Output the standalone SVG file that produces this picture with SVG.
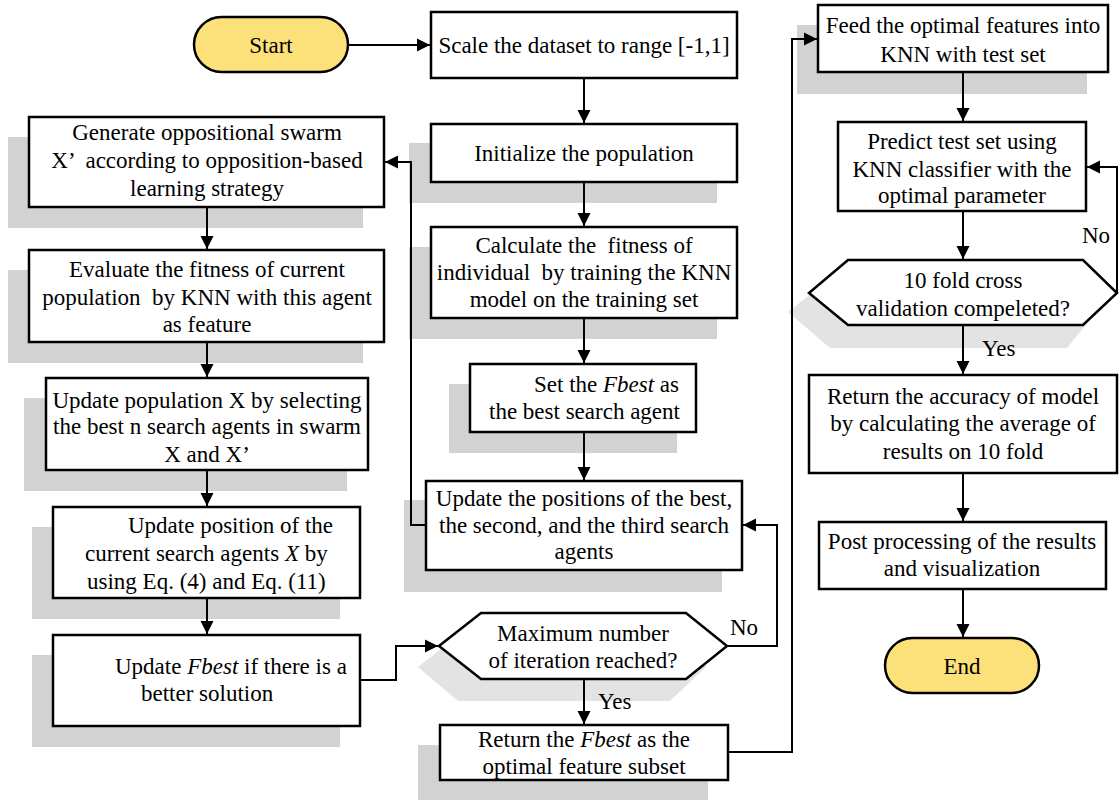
<svg xmlns="http://www.w3.org/2000/svg" width="1119" height="800" viewBox="0 0 1119 800">
<defs>
<marker id="ah" markerUnits="userSpaceOnUse" markerWidth="14" markerHeight="14" refX="13" refY="7" orient="auto">
<path d="M0,0.5 L13,7 L0,13.5 z" fill="#000"/>
</marker>
<style>
.box{fill:#fff;stroke:#000;stroke-width:2.5}
.term{fill:#FCE07A;stroke:#000;stroke-width:2.5}
.sh{fill:#d2d2d2}
.shh{fill:#e3e3e3}
.t{font-family:"Liberation Serif","Times New Roman",serif;font-size:23px;fill:#000}
.c{text-anchor:middle}
.con{fill:none;stroke:#000;stroke-width:2;marker-end:url(#ah)}
</style>
</defs>
<rect width="1119" height="800" fill="#fff"/>

<g id="start">
<rect class="term" x="194" y="17" width="154" height="55" rx="27.5"/>
<text class="t c" x="271" y="53">Start</text>
</g>

<g id="scale">
<rect class="box" x="431" y="12" width="306" height="66"/>
<text class="t c" x="584" y="53">Scale the dataset to range [-1,1]</text>
</g>

<g id="init">
<rect class="sh" x="409" y="143" width="308" height="60"/>
<rect class="box" x="431" y="124" width="306" height="58"/>
<text class="t c" x="584" y="161">Initialize the population</text>
</g>

<g id="calc">
<rect class="sh" x="409" y="247" width="308" height="92"/>
<rect class="box" x="431" y="227" width="306" height="91"/>
<text class="t c" x="584" y="253" xml:space="preserve">Calculate the  fitness of</text>
<text class="t c" x="584" y="280" xml:space="preserve">individual  by training the KNN</text>
<text class="t c" x="584" y="307">model on the training set</text>
</g>

<g id="setbest">
<rect class="sh" x="449" y="384" width="228" height="69"/>
<rect class="box" x="470" y="364" width="226" height="68"/>
<text class="t" x="534" y="392">Set the <tspan font-style="italic">Fbest</tspan> as</text>
<text class="t" x="489" y="419">the best search agent</text>
</g>

<g id="updpos">
<rect class="sh" x="404" y="500" width="318" height="92"/>
<rect class="box" x="426" y="481" width="316" height="89"/>
<text class="t c" x="584" y="506">Update the positions of the best,</text>
<text class="t c" x="584" y="533">the second, and the third search</text>
<text class="t c" x="584" y="559">agents</text>
</g>

<g id="maxiter">
<polygon class="shh" points="418,667 460,634 665,634 706,667 670,701 458,701"/>
<polygon class="box" points="439,646 481,613 686,613 727,646 686,679 481,679"/>
<text class="t c" x="583" y="641">Maximum number</text>
<text class="t c" x="583" y="668">of iteration reached?</text>
</g>

<g id="retbest">
<rect class="sh" x="418" y="745" width="290" height="55"/>
<rect class="box" x="440" y="725" width="288" height="55"/>
<text class="t c" x="584" y="747">Return the <tspan font-style="italic">Fbest</tspan> as the</text>
<text class="t c" x="584" y="774">optimal feature subset</text>
</g>

<g id="generate">
<rect class="sh" x="8" y="137" width="355" height="91"/>
<rect class="box" x="29" y="117" width="355" height="90"/>
<text class="t c" x="207" y="140">Generate oppositional swarm</text>
<text class="t c" x="207" y="168" xml:space="preserve">X’  according to opposition-based</text>
<text class="t c" x="207" y="196">learning strategy</text>
</g>

<g id="evaluate">
<rect class="sh" x="8" y="270" width="355" height="93"/>
<rect class="box" x="29" y="250" width="355" height="92"/>
<text class="t c" x="207" y="277">Evaluate the fitness of current</text>
<text class="t c" x="207" y="305" xml:space="preserve">population  by KNN with this agent</text>
<text class="t c" x="207" y="332">as feature</text>
</g>

<g id="updpop">
<rect class="sh" x="24" y="398" width="323" height="93"/>
<rect class="box" x="46" y="378" width="322" height="92"/>
<text class="t c" x="207" y="408">Update population X by selecting</text>
<text class="t c" x="207" y="434">the best n search agents in swarm</text>
<text class="t c" x="207" y="462">X and X’</text>
</g>

<g id="updposx">
<rect class="sh" x="32" y="527" width="308" height="92"/>
<rect class="box" x="53" y="507" width="307" height="91"/>
<text class="t" x="128" y="533">Update position of the</text>
<text class="t" x="85" y="561">current search agents <tspan font-style="italic">X</tspan> by</text>
<text class="t" x="87" y="589">using Eq. (4) and Eq. (11)</text>
</g>

<g id="updfbest">
<rect class="sh" x="32" y="655" width="308" height="92"/>
<rect class="box" x="53" y="635" width="307" height="91"/>
<text class="t" x="115" y="674">Update <tspan font-style="italic">Fbest</tspan> if there is a</text>
<text class="t" x="141" y="701">better solution</text>
</g>

<g id="feed">
<rect class="sh" x="797" y="25" width="290" height="69"/>
<rect class="box" x="818" y="5" width="290" height="67"/>
<text class="t c" x="963" y="33">Feed the optimal features into</text>
<text class="t c" x="963" y="62">KNN with test set</text>
</g>

<g id="predict">
<rect class="box" x="838" y="122" width="248" height="89"/>
<text class="t c" x="962" y="149">Predict test set using</text>
<text class="t c" x="962" y="177">KNN classifier with the</text>
<text class="t c" x="962" y="203">optimal parameter</text>
</g>

<g id="tenfold">
<polygon class="shh" points="788,312 827,281 1062,281 1096,312 1067,348 830,348"/>
<polygon class="box" points="809,293 848,260 1083,260 1117,293 1083,325 848,325"/>
<text class="t c" x="963" y="288">10 fold cross</text>
<text class="t c" x="963" y="316">validation compeleted?</text>
</g>

<g id="retacc">
<rect class="box" x="809" y="375" width="308" height="98"/>
<text class="t c" x="963" y="404">Return the accuracy of model</text>
<text class="t c" x="963" y="431">by calculating the average of</text>
<text class="t c" x="963" y="459">results on 10 fold</text>
</g>

<g id="post">
<rect class="box" x="819" y="522" width="287" height="67"/>
<text class="t c" x="962" y="549">Post processing of the results</text>
<text class="t c" x="962" y="576">and visualization</text>
</g>

<g id="end">
<rect class="term" x="885" y="638" width="154" height="55" rx="27.5"/>
<text class="t c" x="962" y="674">End</text>
</g>

<g id="connectors">
<path class="con" d="M348,45 H430"/>
<path class="con" d="M584,78 V123"/>
<path class="con" d="M584,182 V226"/>
<path class="con" d="M584,318 V363"/>
<path class="con" d="M584,432 V480"/>
<path class="con" d="M426,525 H411 V162 H385"/>
<path class="con" d="M207,207 V249"/>
<path class="con" d="M207,342 V377"/>
<path class="con" d="M207,470 V506"/>
<path class="con" d="M207,598 V634"/>
<path class="con" d="M360,680 H396 V646 H438"/>
<path class="con" d="M584,679 V724"/>
<path class="con" d="M727,646 H777 V525 H743"/>
<path class="con" d="M728,752 H792 V39 H817"/>
<path class="con" d="M963,72 V121"/>
<path class="con" d="M963,211 V259"/>
<path class="con" d="M1117,293 V167 H1087"/>
<path class="con" d="M963,325 V374"/>
<path class="con" d="M963,473 V521"/>
<path class="con" d="M963,589 V637"/>
<text class="t" x="730" y="635">No</text>
<text class="t" x="598" y="709">Yes</text>
<text class="t" x="1082" y="243">No</text>
<text class="t" x="982" y="356">Yes</text>
</g>
</svg>
